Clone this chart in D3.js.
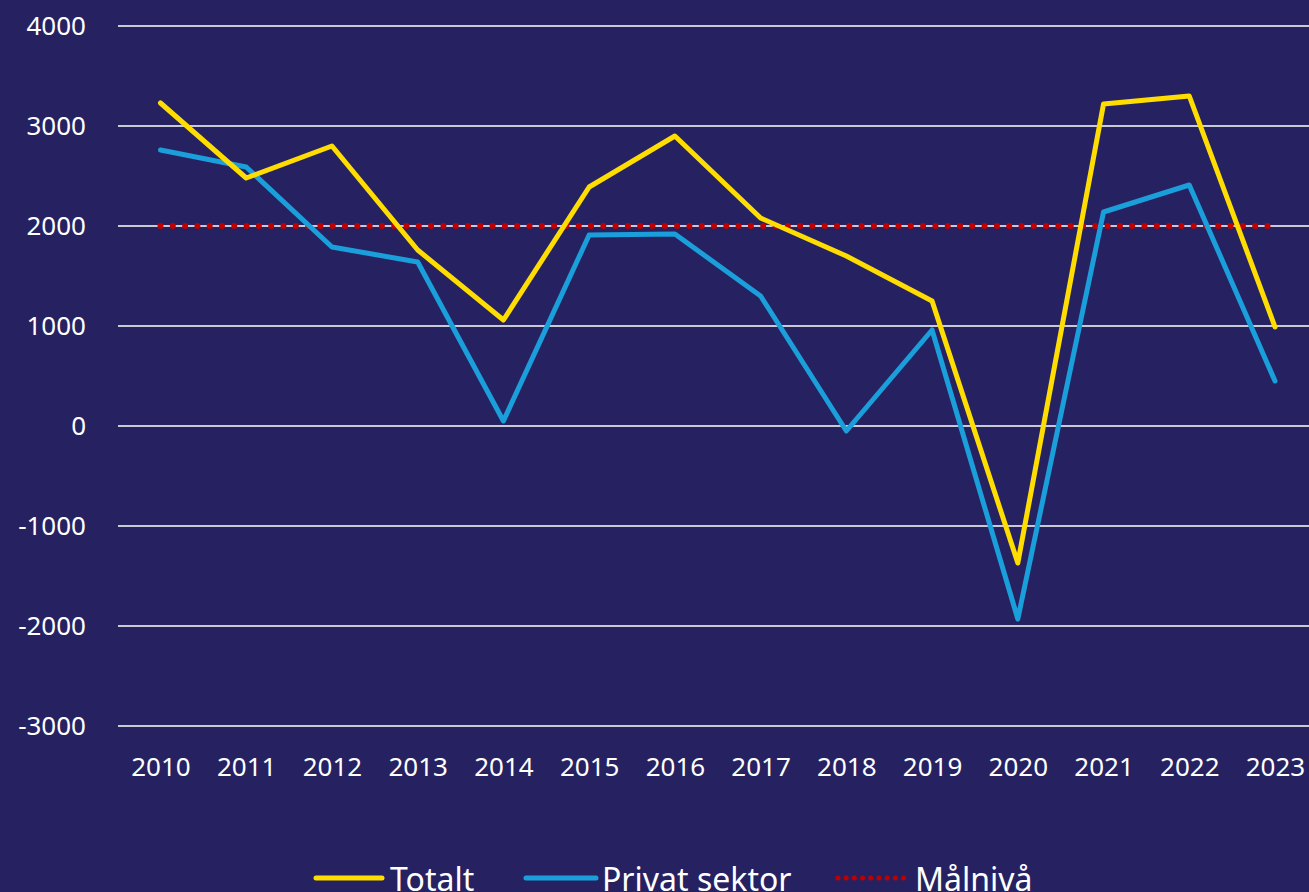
<!DOCTYPE html>
<html>
<head>
<meta charset="utf-8">
<title>Totalt och privat sektor</title>
<script src="https://d3js.org/d3.v7.min.js"></script>
<style>
  html, body { margin: 0; padding: 0; background: #262262; overflow: hidden; }
  svg { display: block; font-family: "Noto Sans", sans-serif; }
</style>
</head>
<body>
<div id="chart"></div>
<script>
const years = ["2010","2011","2012","2013","2014","2015","2016","2017","2018","2019","2020","2021","2022","2023"];
const totalt = [3230, 2480, 2800, 1760, 1060, 2390, 2900, 2080, 1700, 1250, -1370, 3220, 3300, 990];
const privat = [2760, 2590, 1790, 1640, 50, 1910, 1920, 1300, -50, 960, -1930, 2140, 2410, 450];
const malniva = 2000;
const yTicks = [-3000, -2000, -1000, 0, 1000, 2000, 3000, 4000];

const width = 1309, height = 892;
const bg = "#262262", yellow = "#ffdd00", blue = "#1a9fdb", red = "#c00000";

const svg = d3.select("#chart").append("svg")
    .attr("width", width)
    .attr("height", height);

svg.append("rect").attr("width", width).attr("height", height).attr("fill", bg);

const x = d3.scalePoint().domain(years).range([160.5, 1275]);
const y = d3.scaleLinear().domain([-3000, 4000]).range([726, 26]);

// gridlines
svg.append("g")
    .selectAll("line")
    .data(yTicks)
    .join("line")
    .attr("x1", 118)
    .attr("x2", width)
    .attr("y1", d => y(d))
    .attr("y2", d => y(d))
    .attr("stroke", "#c9c9d4")
    .attr("stroke-width", 2);

// y axis labels (plain hyphen for negatives)
const yAxis = svg.append("g")
    .attr("transform", "translate(86,0)")
    .call(d3.axisLeft(y).tickValues(yTicks).tickSize(0).tickPadding(0).tickFormat(d => String(d)));
yAxis.select(".domain").remove();
yAxis.selectAll("text")
    .attr("fill", "#ffffff")
    .style("font-size", "26px")
    .style("font-family", "'Noto Sans', sans-serif");

// x axis labels
const xAxis = svg.append("g")
    .attr("transform", "translate(0,758)")
    .call(d3.axisBottom(x).tickSize(0).tickPadding(0));
xAxis.select(".domain").remove();
xAxis.selectAll("text")
    .attr("fill", "#ffffff")
    .attr("dy", "0.71em")
    .style("font-size", "26px")
    .style("font-family", "'Noto Sans', sans-serif");

// target line
svg.append("line")
    .attr("x1", x("2010"))
    .attr("x2", x("2023"))
    .attr("y1", y(malniva))
    .attr("y2", y(malniva))
    .attr("stroke", red)
    .attr("stroke-width", 6)
    .attr("stroke-linecap", "round")
    .attr("stroke-dasharray", "0 12.3");

const line = d3.line().x((d, i) => x(years[i])).y(d => y(d));

svg.append("path")
    .datum(privat)
    .attr("d", line)
    .attr("fill", "none")
    .attr("stroke", blue)
    .attr("stroke-width", 5)
    .attr("stroke-linecap", "round")
    .attr("stroke-linejoin", "round");

svg.append("path")
    .datum(totalt)
    .attr("d", line)
    .attr("fill", "none")
    .attr("stroke", yellow)
    .attr("stroke-width", 5)
    .attr("stroke-linecap", "round")
    .attr("stroke-linejoin", "round");

// legend
const legendItems = [
    { label: "Totalt", color: yellow, x1: 316, x2: 382, tx: 390, dotted: false },
    { label: "Privat sektor", color: blue, x1: 526, x2: 596, tx: 602, dotted: false },
    { label: "Målnivå", color: red, x1: 838, x2: 906, tx: 915, dotted: true }
];
const legend = svg.append("g");
legendItems.forEach(it => {
    legend.append("line")
        .attr("x1", it.x1).attr("x2", it.x2)
        .attr("y1", 878).attr("y2", 878)
        .attr("stroke", it.color)
        .attr("stroke-width", it.dotted ? 5 : 5)
        .attr("stroke-linecap", "round")
        .attr("stroke-dasharray", it.dotted ? "0 8.2" : null);
    legend.append("text")
        .attr("x", it.tx)
        .attr("y", 891)
        .attr("fill", "#ffffff")
        .style("font-size", "32px")
        .text(it.label);
});
</script>
</body>
</html>
